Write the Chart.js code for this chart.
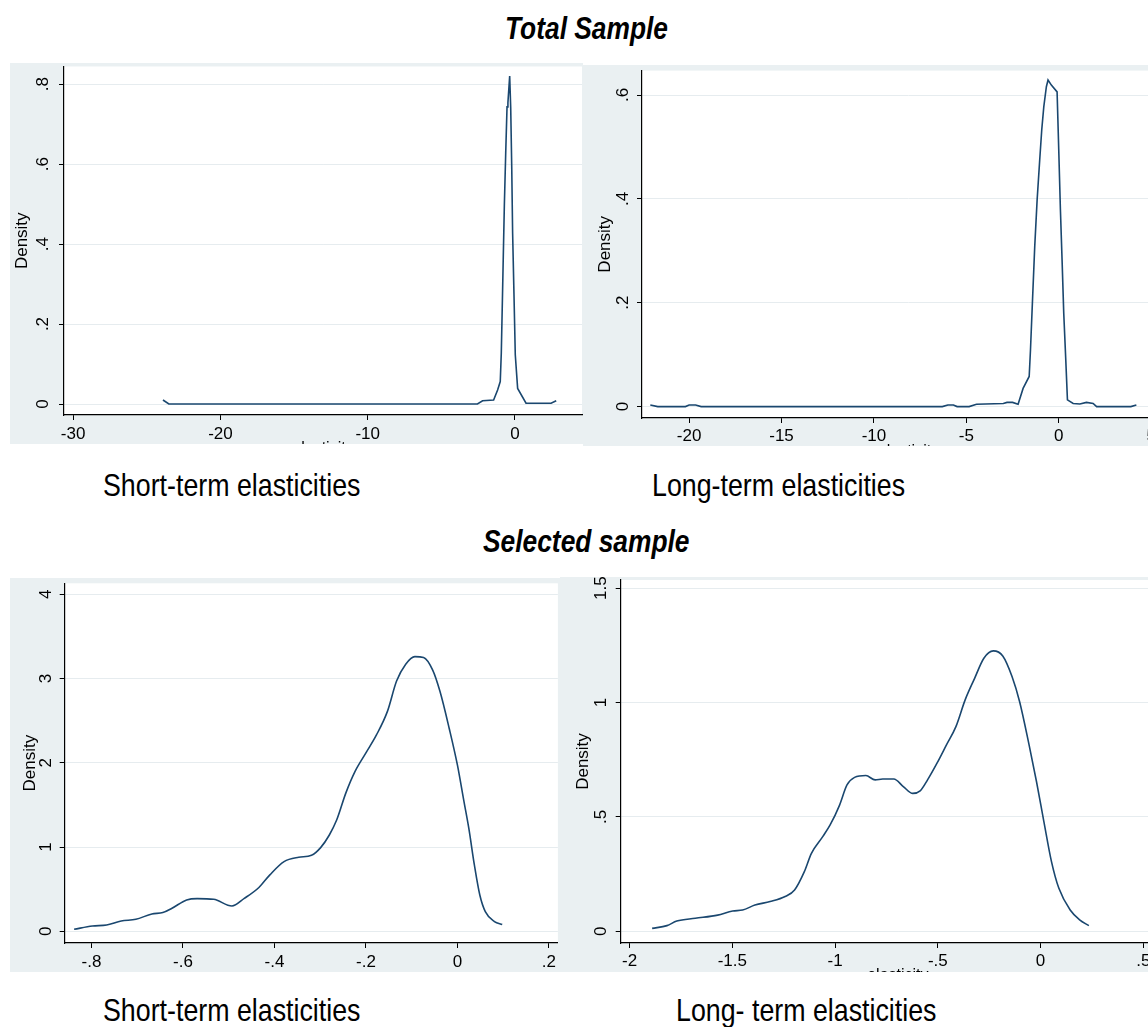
<!DOCTYPE html>
<html lang="en">
  <head>
    <meta charset="UTF-8" />
    <title>Elasticity densities</title>
    <script src="https://cdn.jsdelivr.net/npm/chart.js"></script>
    <style>
      body {
        margin: 0;
        width: 1148px;
        height: 1027px;
        overflow: hidden;
        background: #fff;
        position: relative;
        font-family: "Liberation Sans", Arial, sans-serif;
      }
      .panel {
        position: absolute;
        overflow: hidden;
        background: #eaf0f2;
      }
      .panel canvas {
        position: absolute;
        left: 0;
        top: 0;
      }
      .txt {
        position: absolute;
        white-space: nowrap;
        line-height: 1;
        color: #000;
        transform-origin: left top;
        font-family: "Liberation Sans", Arial, sans-serif;
      }
      /* narrow face is not installed, so squeeze the regular one */
      .head {
        font-size: 31px;
        font-weight: bold;
        font-style: italic;
        transform: scaleX(0.85);
      }
      .cap {
        font-size: 32px;
        transform: scaleX(0.837);
      }
    </style>
  </head>
  <body>
    <div class="txt head" style="left: 505px; top: 13px">Total Sample</div>
    <div class="txt cap" style="left: 103px; top: 469px">Short-term elasticities</div>
    <div class="txt cap" style="left: 652px; top: 469px">Long-term elasticities</div>
    <div class="txt head" style="left: 483px; top: 526px">Selected sample</div>
    <div class="txt cap" style="left: 103px; top: 994px">Short-term elasticities</div>
    <div class="txt cap" style="left: 676px; top: 994px">Long- term elasticities</div>

    <div class="panel" id="p1" style="left: 10px; top: 63px; width: 573px; height: 381px">
      <canvas id="c1" width="573" height="395"></canvas>
    </div>
    <div class="panel" id="p2" style="left: 583px; top: 65px; width: 565px; height: 381px">
      <canvas id="c2" width="600" height="396"></canvas>
    </div>
    <div class="panel" id="p3" style="left: 10px; top: 578px; width: 550px; height: 394px">
      <canvas id="c3" width="550" height="394"></canvas>
    </div>
    <div class="panel" id="p4" style="left: 560px; top: 577px; width: 588px; height: 395px">
      <canvas id="c4" width="620" height="408"></canvas>
    </div>

    <script>
      // total sample, short-term
      const stTotalX = [-23.9, -23.5, -2.55, -2.2, -1.45, -1.18, -1.0, -0.93, -0.86, -0.79, -0.72, -0.63, -0.54, -0.48, -0.36, -0.29, -0.22, -0.16, -0.07, 0.02, 0.18, 0.75, 2.45, 2.8];
      const stTotalY = [0.01, 0.0, 0.0, 0.008, 0.01, 0.035, 0.056, 0.127, 0.25, 0.377, 0.5, 0.627, 0.743, 0.753, 0.82, 0.74, 0.59, 0.427, 0.277, 0.123, 0.039, 0.002, 0.002, 0.008];
      const stTotalXTicks = [-30, -20, -10, 0];
      const stTotalXLabels = ["-30", "-20", "-10", "0"];
      const stTotalYTicks = [0, 0.2, 0.4, 0.6, 0.8];
      const stTotalYLabels = ["0", ".2", ".4", ".6", ".8"];

      // total sample, long-term
      const ltTotalX = [-22.1, -21.7, -20.2, -20.0, -19.65, -19.35, -6.3, -6.0, -5.7, -5.5, -4.85, -4.45, -3.0, -2.8, -2.5, -2.2, -1.93, -1.6, -1.53, -1.42, -1.3, -1.17, -1.03, -0.92, -0.81, -0.67, -0.58, -0.4, -0.09, 0.0, 0.09, 0.18, 0.27, 0.38, 0.47, 0.78, 1.14, 1.5, 1.86, 2.05, 3.9, 4.2];
      const ltTotalY = [0.003, 0, 0, 0.003, 0.003, 0, 0, 0.003, 0.003, 0, 0, 0.0045, 0.006, 0.008, 0.008, 0.0045, 0.035, 0.058, 0.109, 0.205, 0.308, 0.398, 0.475, 0.533, 0.577, 0.616, 0.629, 0.619, 0.606, 0.494, 0.379, 0.282, 0.18, 0.09, 0.013, 0.006, 0.005, 0.008, 0.006, 0, 0, 0.003];
      const ltTotalXTicks = [-20, -15, -10, -5, 0, 5];
      const ltTotalXLabels = ["-20", "-15", "-10", "-5", "0", "5"];
      const ltTotalYTicks = [0, 0.2, 0.4, 0.6];
      const ltTotalYLabels = ["0", ".2", ".4", ".6"];

      // selected sample, short-term
      const stSelX = [-0.838, -0.798, -0.767, -0.735, -0.703, -0.668, -0.644, -0.624, -0.592, -0.569, -0.533, -0.493, -0.466, -0.434, -0.41, -0.379, -0.347, -0.319, -0.299, -0.28, -0.264, -0.244, -0.224, -0.2, -0.177, -0.153, -0.133, -0.113, -0.093, -0.074, -0.054, -0.038, -0.018, 0.0, 0.014, 0.025, 0.037, 0.049, 0.061, 0.081, 0.098];
      const stSelY = [0.024, 0.063, 0.075, 0.123, 0.142, 0.206, 0.222, 0.273, 0.372, 0.388, 0.38, 0.3, 0.39, 0.52, 0.67, 0.827, 0.878, 0.902, 0.993, 1.143, 1.32, 1.64, 1.895, 2.117, 2.33, 2.61, 2.97, 3.17, 3.26, 3.25, 3.1, 2.845, 2.41, 1.974, 1.55, 1.22, 0.79, 0.43, 0.233, 0.115, 0.08];
      const stSelXTicks = [-0.8, -0.6, -0.4, -0.2, 0, 0.2];
      const stSelXLabels = ["-.8", "-.6", "-.4", "-.2", "0", ".2"];
      const stSelYTicks = [0, 1, 2, 3, 4];
      const stSelYLabels = ["0", "1", "2", "3", "4"];

      // selected sample, long-term
      const ltSelX = [-1.89, -1.818, -1.77, -1.68, -1.571, -1.498, -1.45, -1.39, -1.316, -1.243, -1.197, -1.15, -1.115, -1.06, -1.024, -0.978, -0.942, -0.905, -0.85, -0.805, -0.768, -0.714, -0.668, -0.622, -0.586, -0.55, -0.504, -0.458, -0.412, -0.367, -0.321, -0.276, -0.23, -0.184, -0.139, -0.102, -0.056, -0.02, 0.016, 0.053, 0.089, 0.144, 0.19, 0.235];
      const ltSelY = [0.013, 0.025, 0.045, 0.057, 0.071, 0.089, 0.093, 0.115, 0.13, 0.152, 0.181, 0.26, 0.341, 0.414, 0.465, 0.552, 0.64, 0.673, 0.681, 0.662, 0.666, 0.666, 0.633, 0.603, 0.614, 0.662, 0.735, 0.815, 0.895, 1.012, 1.106, 1.194, 1.226, 1.204, 1.114, 1.004, 0.815, 0.655, 0.48, 0.305, 0.188, 0.093, 0.05, 0.025];
      const ltSelXTicks = [-2, -1.5, -1, -0.5, 0, 0.5];
      const ltSelXLabels = ["-2", "-1.5", "-1", "-.5", "0", ".5"];
      const ltSelYTicks = [0, 0.5, 1, 1.5];
      const ltSelYLabels = ["0", ".5", "1", "1.5"];

      const lineColor = "#1a476f";
      const tickFont = { family: "'Liberation Sans', Arial, sans-serif", size: 17 };

      // background: grey outer region, white plot region
      const plotBg = {
        id: "plotBg",
        beforeDraw(chart) {
          const { ctx, chartArea } = chart;
          ctx.save();
          ctx.fillStyle = "#eaf0f2";
          ctx.fillRect(0, 0, chart.width, chart.height);
          ctx.fillStyle = "#ffffff";
          ctx.fillRect(chartArea.left, chartArea.top, chartArea.right - chartArea.left, chartArea.bottom - chartArea.top);
          ctx.restore();
        },
      };

      // Stata style vertical y labels
      const rotatedYLabels = {
        id: "rotatedYLabels",
        afterDraw(chart, args, opts) {
          const scale = chart.scales.y;
          const ctx = chart.ctx;
          ctx.save();
          ctx.font = "17px 'Liberation Sans', Arial, sans-serif";
          ctx.fillStyle = "#000";
          ctx.textAlign = "center";
          ctx.textBaseline = "middle";
          opts.values.forEach((v, i) => {
            const y = scale.getPixelForValue(v);
            ctx.save();
            ctx.translate(scale.right - opts.offset, y);
            ctx.rotate(-Math.PI / 2);
            ctx.fillText(opts.labels[i], 0, 0);
            ctx.restore();
          });
          ctx.restore();
        },
      };

      function drawPanel(canvasId, xs, ys, cfg) {
        const ctx = document.getElementById(canvasId).getContext("2d");
        return new Chart(ctx, {
          type: "line",
          data: {
            datasets: [
              {
                data: xs.map((x, i) => ({ x: x, y: ys[i] })),
                borderColor: lineColor,
                borderWidth: 1.6,
                pointRadius: 0,
                fill: false,
                tension: 0,
                cubicInterpolationMode: cfg.smooth ? "monotone" : "default",
              },
            ],
          },
          options: {
            responsive: false,
            animation: false,
            layout: { padding: { left: 0, top: cfg.padTop, right: cfg.padRight, bottom: 0 } },
            plugins: {
              legend: { display: false },
              tooltip: { enabled: false },
              rotatedYLabels: { values: cfg.yTicks, labels: cfg.yLabels, offset: cfg.yLabelOffset },
            },
            scales: {
              x: {
                type: "linear",
                min: cfg.xMin,
                max: cfg.xMax,
                afterBuildTicks: (s) => {
                  s.ticks = cfg.xTicks.map((v) => ({ value: v }));
                },
                afterFit: (s) => {
                  s.height = cfg.xAxisH;
                },
                ticks: {
                  font: tickFont,
                  color: "#000",
                  padding: cfg.xTickPad,
                  maxRotation: 0,
                  autoSkip: false,
                  callback: (v, i) => cfg.xLabels[i],
                },
                grid: { drawOnChartArea: false, drawTicks: true, tickLength: 5, tickColor: "#000" },
                border: { display: true, color: "#000", width: 1.2 },
                title: {
                  display: cfg.xTitle,
                  text: "elasticity",
                  font: { family: "'Liberation Sans', Arial, sans-serif", size: 16 },
                  color: "#000",
                  padding: 0,
                },
              },
              y: {
                min: cfg.yMin,
                max: cfg.yMax,
                afterBuildTicks: (s) => {
                  s.ticks = cfg.yTicks.map((v) => ({ value: v }));
                },
                afterFit: (s) => {
                  s.width = cfg.yAxisW;
                },
                ticks: { display: false },
                grid: { color: "#e6ecef", lineWidth: 1, drawTicks: true, tickLength: 5, tickColor: "#000" },
                border: { display: true, color: "#000", width: 1.2 },
                title: {
                  display: true,
                  text: "Density",
                  font: { family: "'Liberation Sans', Arial, sans-serif", size: 17 },
                  color: "#000",
                  padding: { top: cfg.densityPad, bottom: 0 },
                },
              },
            },
          },
          plugins: [plotBg, rotatedYLabels],
        });
      }

      drawPanel("c1", stTotalX, stTotalY, {
        xMin: -30.62, xMax: 4.55, yMin: -0.0275, yMax: 0.844,
        xTicks: stTotalXTicks, xLabels: stTotalXLabels, yTicks: stTotalYTicks, yLabels: stTotalYLabels,
        padTop: 3.5, padRight: 1, yAxisW: 54, xAxisH: 43, xTickPad: 4,
        yLabelOffset: 21, densityPad: 2, xTitle: true, smooth: false,
      });

      drawPanel("c2", ltTotalX, ltTotalY, {
        xMin: -22.55, xMax: 6.29, yMin: -0.022, yMax: 0.647,
        xTicks: ltTotalXTicks, xLabels: ltTotalXLabels, yTicks: ltTotalYTicks, yLabels: ltTotalYLabels,
        padTop: 5.6, padRight: 8, yAxisW: 59, xAxisH: 43, xTickPad: 3,
        yLabelOffset: 19, densityPad: 12.5, xTitle: true, smooth: false,
      });

      drawPanel("c3", stSelX, stSelY, {
        xMin: -0.8586, xMax: 0.2197, yMin: -0.139, yMax: 4.13,
        xTicks: stSelXTicks, xLabels: stSelXLabels, yTicks: stSelYTicks, yLabels: stSelYLabels,
        padTop: 5.3, padRight: 2, yAxisW: 54.7, xAxisH: 29, xTickPad: 4,
        yLabelOffset: 18, densityPad: 10, xTitle: false, smooth: true,
      });

      drawPanel("c4", ltSelX, ltSelY, {
        xMin: -2.043, xMax: 0.654, yMin: -0.051, yMax: 1.536,
        xTicks: ltSelXTicks, xLabels: ltSelXLabels, yTicks: ltSelYTicks, yLabels: ltSelYLabels,
        padTop: 3, padRight: 5, yAxisW: 60.7, xAxisH: 42, xTickPad: 3,
        yLabelOffset: 19, densityPad: 13, xTitle: true, smooth: true,
      });
    </script>
  </body>
</html>
